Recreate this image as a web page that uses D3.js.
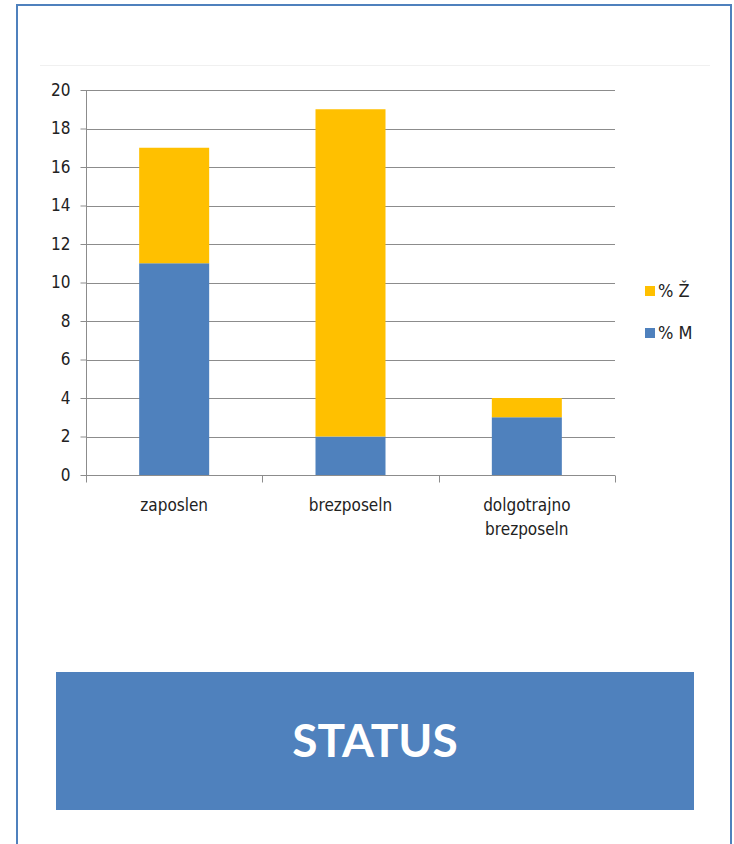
<!DOCTYPE html>
<html>
<head>
<meta charset="utf-8">
<script src="https://cdn.jsdelivr.net/npm/d3@7"></script>
<style>
  html, body { margin: 0; padding: 0; background: #fff; }
  svg { display: block; }
</style>
</head>
<body>
<svg id="chart" width="734" height="844"></svg>
<script>
const categories = [["zaposlen"], ["brezposeln"], ["dolgotrajno", "brezposeln"]];
const categoryKeys = ["zaposlen", "brezposeln", "dolgotrajno brezposeln"];
const seriesM = [11, 2, 3];
const seriesZ = [6, 17, 1];
const seriesNames = ["% M", "% Ž"];
const yTicks = [0, 2, 4, 6, 8, 10, 12, 14, 16, 18, 20];
const titleText = "STATUS";

const FONT = "'Liberation Sans Narrow', 'DejaVu Sans Condensed', 'Liberation Sans', sans-serif";
const BLUE = "#4F81BD", YELLOW = "#FFC000";

const svg = d3.select("#chart");

// outer frame
svg.append("rect").attr("x", 17).attr("y", 5).attr("width", 714).attr("height", 860)
  .attr("fill", "none").attr("stroke", BLUE).attr("stroke-width", 2);

// faint chart-area top line
svg.append("line").attr("x1", 40).attr("x2", 710).attr("y1", 65.5).attr("y2", 65.5)
  .attr("stroke", "#f0f0f0").attr("stroke-width", 1);

const x = d3.scaleBand().domain(categoryKeys).range([86, 615]).paddingInner(0.6).paddingOuter(0.3);
const xOuter = d3.scaleBand().domain(categoryKeys).range([86, 615]);
const y = d3.scaleLinear().domain([0, 20]).range([475, 90]);

const data = categoryKeys.map((k, i) => ({ key: k, M: seriesM[i], Z: seriesZ[i] }));
const stack = d3.stack().keys(["M", "Z"])(data);

// gridlines
svg.append("g").selectAll("line").data(yTicks.filter(t => t > 0)).join("line")
  .attr("x1", 86).attr("x2", 615)
  .attr("y1", d => Math.round(y(d)) + 0.5).attr("y2", d => Math.round(y(d)) + 0.5)
  .attr("stroke", "#8c8c8c").attr("stroke-width", 1);

// bars
const colors = [BLUE, YELLOW];
svg.append("g").selectAll("g").data(stack).join("g")
  .attr("fill", (d, i) => colors[i])
  .selectAll("rect").data(d => d).join("rect")
  .attr("x", d => xOuter(d.data.key) + xOuter.bandwidth() / 2 - 35)
  .attr("width", 70)
  .attr("y", d => y(d[1]))
  .attr("height", d => y(d[0]) - y(d[1]));

// y axis
const yAxis = d3.axisLeft(y).tickValues(yTicks).tickSize(6).tickPadding(10).tickFormat(d3.format("d"));
const gy = svg.append("g").attr("transform", "translate(86.5,0)").call(yAxis);
gy.select(".domain").attr("stroke", "#8c8c8c").attr("d", "M0,475.5V90");
gy.selectAll(".tick line").attr("stroke", "#8c8c8c");
gy.selectAll(".tick text").attr("font-family", FONT).attr("font-size", 17).attr("fill", "#222");

// x axis
const gx = svg.append("g").attr("transform", "translate(0,475.5)");
gx.append("line").attr("x1", 86).attr("x2", 615).attr("stroke", "#8c8c8c");
const tickXs = categoryKeys.map(k => xOuter(k)).concat([xOuter.range()[1]]);
gx.selectAll("line.tk").data(tickXs).join("line").attr("class", "tk")
  .attr("x1", d => Math.round(d) + 0.5).attr("x2", d => Math.round(d) + 0.5)
  .attr("y1", 0).attr("y2", 7).attr("stroke", "#8c8c8c");
gx.selectAll("text").data(categories).join("text")
  .attr("font-family", FONT).attr("font-size", 17).attr("fill", "#222")
  .attr("text-anchor", "middle")
  .each(function(lines, i) {
    const t = d3.select(this);
    const cx = xOuter(categoryKeys[i]) + xOuter.bandwidth() / 2;
    lines.forEach((ln, j) => {
      t.append("tspan").attr("x", cx).attr("y", 35 + j * 24).text(ln);
    });
  });

// legend
const legendItems = [{ name: seriesNames[1], color: YELLOW }, { name: seriesNames[0], color: BLUE }];
const lg = svg.append("g").selectAll("g").data(legendItems).join("g")
  .attr("transform", (d, i) => `translate(645,${286 + i * 42})`);
lg.append("rect").attr("width", 10).attr("height", 10).attr("fill", d => d.color);
lg.append("text").attr("x", 13).attr("y", 11).attr("font-family", FONT).attr("font-size", 18)
  .attr("fill", "#222").text(d => d.name);

// STATUS banner
svg.append("rect").attr("x", 56).attr("y", 672).attr("width", 638).attr("height", 138).attr("fill", BLUE);
svg.append("text").attr("x", 375).attr("y", 757).attr("text-anchor", "middle")
  .attr("font-family", "Lato, 'Open Sans', sans-serif").attr("font-weight", "bold")
  .attr("font-size", 46).attr("fill", "#fff").text(titleText);
</script>
</body>
</html>
